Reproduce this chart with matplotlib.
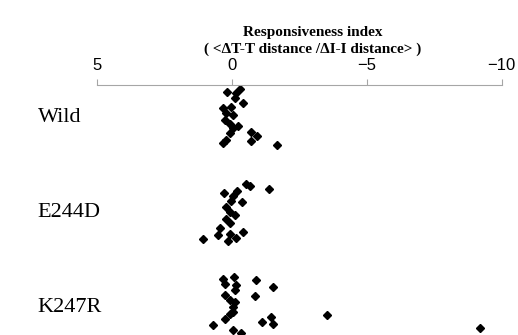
import matplotlib.pyplot as plt

# Grupos (filas) y valores del índice de respuesta
grupos = ['Wild', 'E244D', 'K247R']

wild_val = [0.16, -0.30, -0.17, -0.11, -0.42, 0.32, 0.01, 0.20, -0.05, 0.26,
            0.07, -0.23, -0.05, 0.07, 0.20, 0.32, -0.73, -0.93, -0.70, -1.67]
wild_jit = [-0.24, -0.28, -0.23, -0.18, -0.13, -0.07, -0.09, -0.02, 0.00, 0.05,
            0.09, 0.11, 0.14, 0.19, 0.26, 0.29, 0.18, 0.22, 0.27, 0.31]

e244d_val = [-0.54, -0.69, -1.40, 0.28, -0.20, -0.05, 0.01, -0.39, 0.20, 0.07,
             -0.11, 0.20, 0.07, 0.44, -0.42, 0.51, 0.07, -0.15, 0.14, 1.08]
e244d_jit = [-0.27, -0.25, -0.22, -0.18, -0.20, -0.15, -0.10, -0.08, -0.03, 0.02,
             0.05, 0.09, 0.14, 0.19, 0.23, 0.26, 0.25, 0.29, 0.33, 0.31]

k247r_val = [0.32, -0.07, 0.26, -0.17, -0.11, -0.89, -1.52, 0.26, -0.85, 0.07,
             -0.11, -0.05, -0.05, 0.07, 0.26, 0.69, -0.05, -0.33, -1.13, -1.46,
             -1.52, -3.52, -9.21]
k247r_jit = [-0.27, -0.29, -0.22, -0.21, -0.16, -0.26, -0.19, -0.11, -0.09, -0.05,
             -0.03, 0.02, 0.07, 0.10, 0.15, 0.21, 0.26, 0.29, 0.18, 0.13,
             0.20, 0.11, 0.24]

valores = [wild_val, e244d_val, k247r_val]
jitter = [wild_jit, e244d_jit, k247r_jit]

fig = plt.figure(figsize=(5.18, 3.35), dpi=100)
ax = fig.add_axes([0.1867, 0.0, 0.7818, 0.746])

for i in range(len(grupos)):
    ys = [i + j for j in jitter[i]]
    ax.plot(valores[i], ys, linestyle='none', marker='D', markersize=4.5,
            color='black')

ax.set_xlim(5, -10)
ax.set_ylim(2.316, -0.316)
ax.set_xticks([5, 0, -5, -10])

ax.xaxis.tick_top()
for s in ['left', 'right', 'bottom']:
    ax.spines[s].set_visible(False)
ax.spines['top'].set_color('#a6a6a6')
ax.tick_params(axis='x', colors='#a6a6a6', length=4, labelcolor='black',
               labelsize=12, pad=5)
for lab in ax.get_xticklabels():
    lab.set_fontfamily('Liberation Sans')

ax.set_yticks(range(len(grupos)))
ax.set_yticklabels(grupos, fontfamily='Liberation Serif', fontsize=16)
ax.tick_params(axis='y', length=0, pad=42.5)
for lab in ax.get_yticklabels():
    lab.set_horizontalalignment('left')

fig.text(0.604, 0.903, 'Responsiveness index', ha='center', va='center',
         fontfamily='Liberation Serif', fontweight='bold', fontsize=11)
fig.text(0.604, 0.853, '( <ΔT-T distance /ΔI-I distance> )', ha='center',
         va='center', fontfamily='Liberation Serif', fontweight='bold',
         fontsize=11)

plt.savefig('out.png', dpi=100)
plt.close()
